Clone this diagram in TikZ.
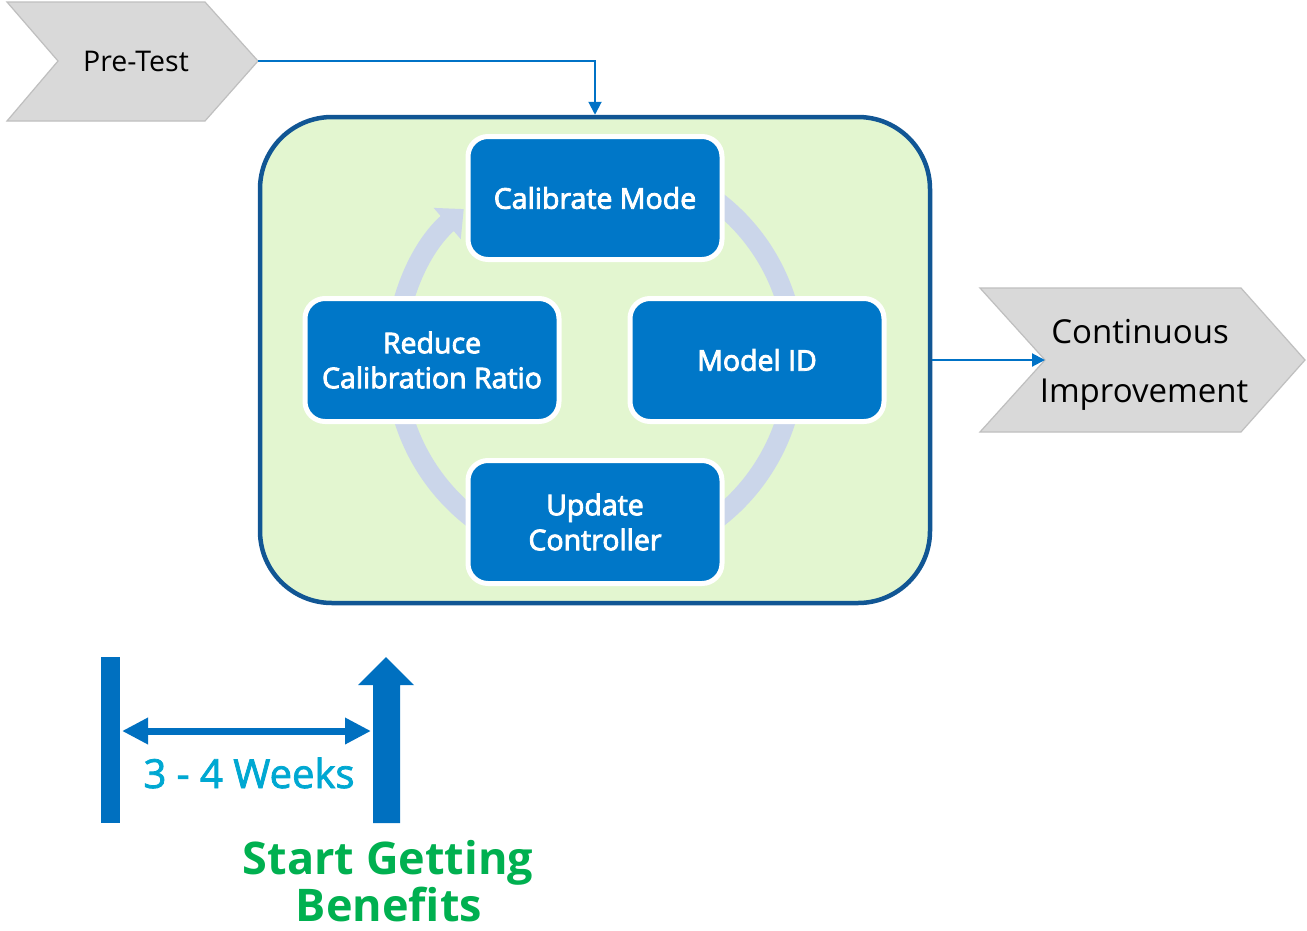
\documentclass[tikz,border=0pt]{standalone}
\usepackage{fontspec}
\setmainfont{Open Sans}
\newfontfamily\semibf{Open Sans}[FakeBold=3]
\newfontfamily\weekfont{Open Sans}[FakeBold=2]
\usetikzlibrary{arrows.meta}
\definecolor{boxblue}{RGB}{0,119,200}
\definecolor{frameblue}{RGB}{17,86,148}
\definecolor{panelgreen}{RGB}{227,246,208}
\definecolor{ringblue}{RGB}{203,214,234}
\definecolor{linkblue}{RGB}{0,114,198}
\definecolor{chevgray}{RGB}{217,217,217}
\definecolor{chevedge}{RGB}{191,191,191}
\definecolor{weekcyan}{RGB}{0,168,210}
\definecolor{benefitgreen}{RGB}{0,176,80}
\definecolor{barblue}{RGB}{0,112,192}
\begin{document}
\begin{tikzpicture}[x=1pt,y=-1pt,
  stepbox/.style={draw=white, line width=5pt, fill=boxblue, rounded corners=20pt,
    minimum width=254pt, minimum height=123pt, text=white, align=center, inner sep=0pt,
    font=\semibf\fontsize{28.5}{35}\selectfont},
  chevron/.style={fill=chevgray, draw=chevedge, line width=1.2pt},
  chevtext/.style={inner sep=0pt, font=\fontsize{28.5}{34}\selectfont},
  link/.style={draw=linkblue, line width=2pt, -{Triangle[width=13pt,length=13pt]}},
  bigtext/.style={anchor=base, inner sep=0pt},
]
% canvas
\fill[white] (0,0) rectangle (1307,930);
\useasboundingbox (0,0) rectangle (1307,930);

% green panel holding the cycle
\node[draw=frameblue, line width=4.5pt, fill=panelgreen, rounded corners=72pt,
      minimum width=670pt, minimum height=486pt, inner sep=0pt] (panel) at (595,360) {};

% circular arrow behind the four steps
\draw[ringblue, line width=20pt, -{Triangle[width=40pt,length=22pt]}]
  (panel.center) ++(-60:200) arc[start angle=-60, end angle=229, radius=200];

% the four steps
\node[stepbox] (calib)   at (595,198) {Calibrate Mode};
\node[stepbox] (reduce)  at (432,360) {Reduce\\Calibration Ratio};
\node[stepbox] (modelid) at (757,360) {Model ID};
\node[stepbox] (update)  at (595,522) {Update\\Controller};

% Pre-Test chevron
\draw[chevron] (7,2) -- (205,2) -- (258,61) -- (205,121) -- (7,121) -- (58,61) -- cycle;
\coordinate (pretip) at (258,61);
\node[chevtext] (pretest) at (136,61) {Pre-Test};
\draw[link] (pretip) -| (panel.north);

% Continuous Improvement chevron
\draw[chevron] (980,288) -- (1241,288) -- (1305,360) -- (1241,432) -- (980,432) -- (1045,360) -- cycle;
\coordinate (contnotch) at (1045,360);
\node[bigtext, font=\fontsize{33}{40}\selectfont] (cont1) at (1140,343) {Continuous};
\node[bigtext, font=\fontsize{33}{40}\selectfont] (cont2) at (1144,402) {Improvement};
\draw[link] (panel.east) -- (contnotch);

% timeline
\node[fill=barblue, minimum width=19pt, minimum height=166pt, inner sep=0pt] (startbar) at (110.5,740) {};
\fill[barblue] (373,823) -- (373,685) -- (358,685) -- (386,657) -- (414,685)
  -- (400,685) -- (400,823) -- cycle;
\coordinate (spanL) at (122,731);
\coordinate (spanR) at (371,731);
\draw[barblue, line width=7pt,
  {Triangle[width=25pt,length=26pt]}-{Triangle[width=25pt,length=26pt]}] (spanL) -- (spanR);
\node[bigtext, text=weekcyan, font=\weekfont\fontsize{40}{48}\selectfont] (weeks) at (249,788) {3 - 4 Weeks};
\node[bigtext, text=benefitgreen, font=\bfseries\fontsize{45}{50}\selectfont] (start) at (388,874) {Start Getting};
\node[bigtext, text=benefitgreen, font=\bfseries\fontsize{45}{50}\selectfont] (benefits) at (389,921) {Benefits};
\end{tikzpicture}
\end{document}
